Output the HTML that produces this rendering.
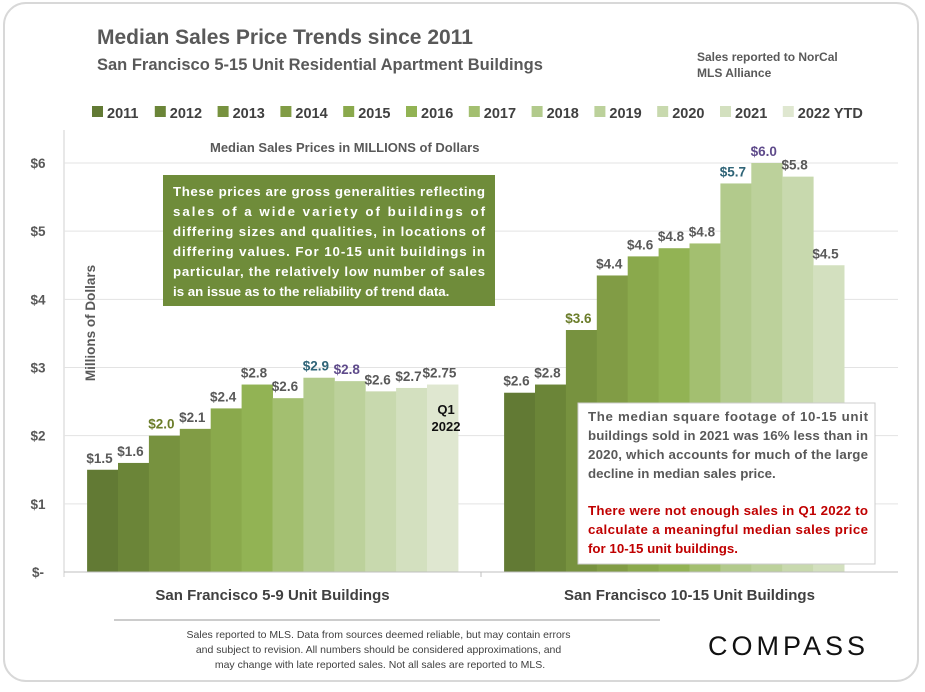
<!DOCTYPE html>
<html><head><meta charset="utf-8"><style>
html,body{margin:0;padding:0;background:#fff;}
body{width:925px;height:687px;overflow:hidden;font-family:"Liberation Sans",sans-serif;}
svg text{font-family:"Liberation Sans",sans-serif;}
</style></head><body>
<svg id="chart" width="925" height="687" xmlns="http://www.w3.org/2000/svg">
<rect x="4" y="3" width="914" height="678" rx="22" fill="#fff" stroke="#d8d8d8" stroke-width="2"/>
<text x="97" y="44" font-size="21" font-weight="bold" fill="#595959">Median Sales Price Trends since 2011</text>
<text x="97" y="70" font-size="16.5" font-weight="bold" fill="#595959">San Francisco 5-15 Unit Residential Apartment Buildings</text>
<text x="697" y="61" font-size="12" font-weight="bold" fill="#595959"><tspan x="697">Sales reported to NorCal</tspan><tspan x="697" dy="16">MLS Alliance</tspan></text>
<g id="legend"></g>
<line x1="64" y1="130" x2="64" y2="577" stroke="#d0d0d0"/>
<g id="grid"></g>
<text x="210" y="152" font-size="13" font-weight="bold" fill="#595959">Median Sales Prices in MILLIONS of Dollars</text>
<text transform="translate(95,323) rotate(-90)" text-anchor="middle" font-size="13.5" font-weight="bold" fill="#595959">Millions of Dollars</text>
<g id="bars"></g>
<g id="labels"></g>
<rect x="163" y="175" width="332" height="131" fill="#6f8c3a"/>
<text font-size="13.3" font-weight="bold" fill="#fff">
<tspan x="173" y="196" textLength="312" lengthAdjust="spacing">These prices are gross generalities reflecting</tspan>
<tspan x="173" y="216" textLength="312" lengthAdjust="spacing">sales of a wide variety of buildings of</tspan>
<tspan x="173" y="236" textLength="312" lengthAdjust="spacing">differing sizes and qualities, in locations of</tspan>
<tspan x="173" y="256" textLength="312" lengthAdjust="spacing">differing values. For 10-15 unit buildings in</tspan>
<tspan x="173" y="276" textLength="312" lengthAdjust="spacing">particular, the relatively low number of sales</tspan>
<tspan x="173" y="296">is an issue as to the reliability of trend data.</tspan>
</text>
<text x="467" y="414" text-anchor="middle" font-size="13" font-weight="bold" fill="#111"><tspan x="446" y="414" text-anchor="middle">Q1</tspan><tspan x="446" dy="17" text-anchor="middle">2022</tspan></text>
<rect x="578" y="403" width="297" height="161" fill="#fff" stroke="#ccc"/>
<text font-size="13.3" font-weight="bold">
<tspan x="588" y="421" fill="#595959" textLength="280" lengthAdjust="spacing">The median square footage of 10-15 unit</tspan>
<tspan x="588" y="440" fill="#595959" textLength="280" lengthAdjust="spacing">buildings sold in 2021 was 16% less than in</tspan>
<tspan x="588" y="459" fill="#595959" textLength="280" lengthAdjust="spacing">2020, which accounts for much of the large</tspan>
<tspan x="588" y="478" fill="#595959">decline in median sales price.</tspan>
<tspan x="588" y="515" fill="#c00000" textLength="280" lengthAdjust="spacing">There were not enough sales in Q1 2022 to</tspan>
<tspan x="588" y="534" fill="#c00000" textLength="280" lengthAdjust="spacing">calculate a meaningful median sales price</tspan>
<tspan x="588" y="553" fill="#c00000">for 10-15 unit buildings.</tspan>
</text>
<line x1="64" y1="572" x2="898" y2="572" stroke="#bfbfbf"/>
<line x1="481" y1="572" x2="481" y2="577" stroke="#bfbfbf"/>
<g id="cats"></g>
<line x1="114" y1="620" x2="660" y2="620" stroke="#999"/>
<text font-size="10.5" fill="#404040" text-anchor="middle">
<tspan x="380" y="638">Sales reported to MLS. Data from sources deemed reliable, but may contain errors</tspan>
<tspan x="380" y="653">and subject to revision. All numbers should be considered approximations, and</tspan>
<tspan x="380" y="668">may change with late reported sales. Not all sales are reported to MLS.</tspan>
</text>
<text x="708" y="655" font-size="27" fill="#111" letter-spacing="4">COMPASS</text>
</svg>
<script>
const years = ["2011","2012","2013","2014","2015","2016","2017","2018","2019","2020","2021","2022 YTD"];
const categories = ["San Francisco 5-9 Unit Buildings","San Francisco 10-15 Unit Buildings"];
const values5to9 = [1.5,1.6,2.0,2.1,2.4,2.75,2.55,2.85,2.8,2.65,2.7,2.75];
const labels5to9 = ["$1.5","$1.6","$2.0","$2.1","$2.4","$2.8","$2.6","$2.9","$2.8","$2.6","$2.7","$2.75"];
const values10to15 = [2.63,2.75,3.55,4.35,4.63,4.75,4.82,5.7,6.0,5.8,4.5];
const labels10to15 = ["$2.6","$2.8","$3.6","$4.4","$4.6","$4.8","$4.8","$5.7","$6.0","$5.8","$4.5"];
const yTicks = [0,1,2,3,4,5,6];
const yTickLabels = ["$-","$1","$2","$3","$4","$5","$6"];
const colors = ["#627a34","#6b8538","#77923f","#819c45","#8aa94c","#92b354","#a3bf70","#b2ca8c","#bcd19b","#c8d9ae","#d3e0bf","#dfe7d0"];
const labelColors = {"2013":"#6b7d2a","2018":"#2f6477","2019":"#5f4b8b"};
const NS="http://www.w3.org/2000/svg";
const plotL=64, plotR=898, y0=572, yTop=163, yMax=6;
const y = v => y0 - (v/yMax)*(y0-yTop);
const catW=(plotR-plotL)/categories.length;
const barW=30.9;
function mk(tag,attrs,parent){const e=document.createElementNS(NS,tag);for(const k in attrs)e.setAttribute(k,attrs[k]);parent.appendChild(e);return e;}
const grid=document.getElementById('grid');
yTicks.forEach((t,i)=>{
  if(t>0){const l=mk('line',{x1:plotL,x2:plotR,y1:y(t),y2:y(t),stroke:'#e3e3e3'},grid);
  
  }
  const tx=mk('text',{x:38,y:y(t)+5,'font-size':13.5,'font-weight':'bold',fill:'#595959','text-anchor':'middle'},grid);
  tx.textContent=yTickLabels[i];
  
  
});
const lg=document.getElementById('legend');
let lx=92;
years.forEach((yr,i)=>{
  const r=mk('rect',{x:lx,y:106,width:11,height:11,fill:colors[i]},lg);
  
  
  const t=mk('text',{x:lx+15,y:118,'font-size':14.5,'font-weight':'bold',fill:'#404040'},lg);
  t.textContent=yr;
  
  
  lx+= yr.length>4?90:62.8;
});
const bars=document.getElementById('bars'), labs=document.getElementById('labels'), cats=document.getElementById('cats');
[[values5to9,labels5to9],[values10to15,labels10to15]].forEach(([vals,lbls],c)=>{
  const cx=plotL+catW*(c+0.5);
  const start=cx-vals.length*barW/2 + (c==1?-(12-11)*barW/2+ 0:0);
  vals.forEach((v,i)=>{
    const x=start+i*barW;
    const b=mk('rect',{x:x,y:y(v),width:barW+0.5,height:y0-y(v),fill:colors[i]},bars);
    
    
    const t=mk('text',{x:x+barW/2-3,y:y(v)-7,'font-size':13.5,'font-weight':'bold','text-anchor':'middle',fill:labelColors[years[i]]||'#595959'},labs);
    t.textContent=lbls[i];
    
    
  });
  const ct=mk('text',{x:cx,y:600,'font-size':15,'font-weight':'bold',fill:'#404040','text-anchor':'middle'},cats);
  ct.textContent=categories[c];
  
  
});
</script>
</body></html>
